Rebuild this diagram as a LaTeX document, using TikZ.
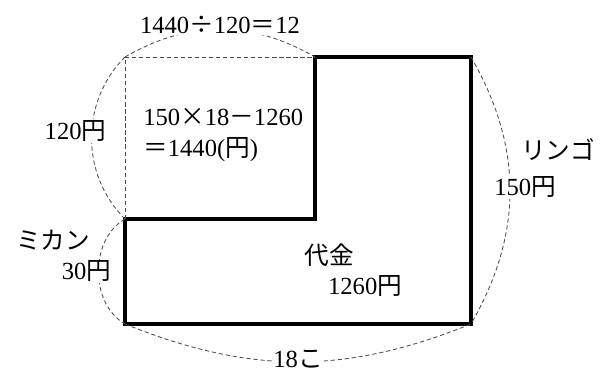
\documentclass[tikz,border=0pt]{standalone}
\usepackage{fontspec}
\setmainfont{Liberation Serif}
\newfontfamily\jp{Noto Sans CJK JP}
\usetikzlibrary{positioning}
\tikzset{>=latex}
\tikzset{
  wall/.style={line width=2.2pt, line join=miter},
  guide/.style={dash pattern=on 3pt off 2pt, black!70, line width=0.6pt},
  gap/.style={fill=white, inner sep=1pt, text=black},
}
\newcommand{\enj}{{\jp 円}}

\begin{document}
\begin{tikzpicture}[font=\fontsize{17.5}{22.5}\selectfont]
\useasboundingbox (0,0) rectangle (15.2,9.3);

% corners of the figure
\coordinate (TL) at (3.125,7.875);
\coordinate (TM) at (7.875,7.875);
\coordinate (TR) at (11.775,7.875);
\coordinate (ML) at (3.125,3.825);
\coordinate (MM) at (7.875,3.825);
\coordinate (BL) at (3.125,1.2);
\coordinate (BR) at (11.775,1.2);

\draw[wall] (TM) -- (TR) -- (BR) -- (BL) -- (ML) -- (MM) -- cycle;
\draw[guide] (ML) -- (TL) -- (TM);

% braces with labels
\draw[guide] (TL) to[bend left=30] node[gap, yshift=0.1cm] (top) {1440{\jp ÷}120{\jp ＝}12} (TM);
\draw[guide] (TL) to[bend right=45] node[gap, xshift=-0.4cm, yshift=0.175cm] (apple) {120\enj} (ML);
\draw[guide] (ML) to[bend right=60] node[gap, xshift=-0.3cm] (mikan) {30\enj} (BL);
\draw[guide] (BL) to[bend right=22] node[gap, yshift=0.06cm] (count) {18{\jp こ}} (BR);
\draw[guide] (TR) to[bend left=30] node[gap, xshift=0.375cm, yshift=0.09cm] (ringo) {150\enj} (BR);

\node (mikanlbl) at (1.325,3.3) {\jp ミカン};
\node (ringolbl) at (13.95,5.55) {\jp リンゴ};

% texts inside
\node[anchor=west, align=left, inner sep=0pt] (calc) at (3.575,5.925)
  {150{\jp ×}18{\jp －}1260\\{\jp ＝}1440(\enj)};
\node (daikin) at (8.225,2.925) {\jp 代金};
\node (total) at (9.125,2.15) {1260\enj};
\end{tikzpicture}
\end{document}
